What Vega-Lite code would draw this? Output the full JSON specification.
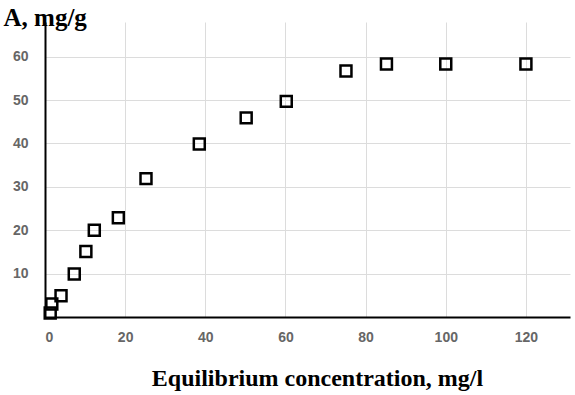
{
  "$schema": "https://vega.github.io/schema/vega-lite/v6.json",
  "autosize": "none",
  "width": 525,
  "height": 295,
  "padding": {"left": 45, "top": 22, "right": 5, "bottom": 78},
  "background": "white",
  "config": {"view": {"stroke": null}},
  "data": {"values": [
    {"c": 1.3, "a": 0.9},
    {"c": 1.7, "a": 3.0},
    {"c": 4, "a": 4.9},
    {"c": 7.3, "a": 9.9},
    {"c": 10.2, "a": 15.1},
    {"c": 12.3, "a": 20},
    {"c": 18.3, "a": 22.9},
    {"c": 25.2, "a": 31.9},
    {"c": 38.5, "a": 39.9},
    {"c": 50.2, "a": 45.9},
    {"c": 60.2, "a": 49.7},
    {"c": 75.1, "a": 56.7},
    {"c": 85.2, "a": 58.3},
    {"c": 100, "a": 58.3},
    {"c": 120, "a": 58.3}
  ]},
  "mark": {"type": "point", "shape": "square", "filled": false, "stroke": "black", "strokeWidth": 2.5, "size": 120, "opacity": 1},
  "encoding": {
    "x": {
      "field": "c", "type": "quantitative",
      "scale": {"domain": [0, 131], "nice": false, "zero": true},
      "axis": {
        "values": [0, 20, 40, 60, 80, 100, 120],
        "title": "Equilibrium concentration, mg/l",
        "titleFont": "Liberation Serif", "titleFontSize": 24, "titleFontWeight": "bold", "titleColor": "black",
        "titleX": 272, "titleAlign": "center", "titleY": 68, "titleBaseline": "alphabetic",
        "labelFont": "Liberation Sans", "labelFontSize": 14, "labelFontWeight": "bold", "labelColor": "#666666",
        "labelPadding": 13,
        "ticks": false,
        "domainColor": "black", "domainWidth": 2,
        "grid": true, "gridColor": "#dcdcdc", "gridWidth": 1
      }
    },
    "y": {
      "field": "a", "type": "quantitative",
      "scale": {"domain": [0, 68], "nice": false},
      "axis": {
        "values": [10, 20, 30, 40, 50, 60],
        "title": "A, mg/g",
        "titleFont": "Liberation Serif", "titleFontSize": 25, "titleFontWeight": "bold", "titleColor": "black",
        "titleAngle": 0, "titleAlign": "left", "titleX": -42, "titleY": 3, "titleBaseline": "alphabetic",
        "labelFont": "Liberation Sans", "labelFontSize": 14, "labelFontWeight": "bold", "labelColor": "#666666",
        "labelPadding": 17,
        "ticks": false,
        "domainColor": "black", "domainWidth": 2,
        "grid": true, "gridColor": "#dcdcdc", "gridWidth": 1
      }
    }
  }
}
